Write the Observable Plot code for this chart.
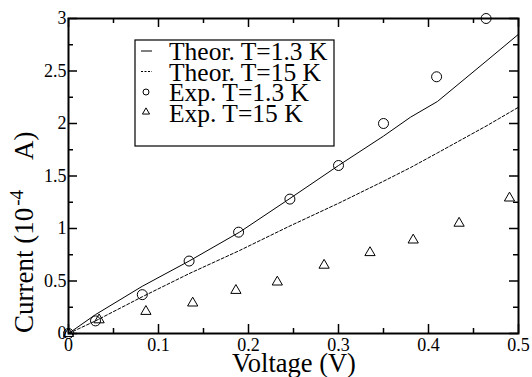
<!DOCTYPE html>
<html>
<head>
<meta charset="utf-8">
<script src="https://cdn.jsdelivr.net/npm/d3@7"></script>
<script src="https://cdn.jsdelivr.net/npm/@observablehq/plot@0.6"></script>
<style>
  html, body { margin: 0; padding: 0; background: #fff; }
  svg { display: block; }
</style>
</head>
<body>
<div id="chart"></div>
<script>
// ---- data ----
const expV13 = [0, 0.030, 0.082, 0.134, 0.189, 0.246, 0.300, 0.350, 0.409, 0.464];
const expI13 = [0, 0.12, 0.37, 0.69, 0.965, 1.28, 1.60, 2.00, 2.445, 3.00];
const expV15 = [0, 0.034, 0.086, 0.138, 0.186, 0.232, 0.284, 0.335, 0.383, 0.434, 0.490];
const expI15 = [0, 0.13, 0.21, 0.29, 0.41, 0.49, 0.65, 0.77, 0.89, 1.05, 1.29];
const thV   = [0, 0.03, 0.082, 0.134, 0.19, 0.245, 0.30, 0.35, 0.38, 0.41, 0.465, 0.5];
const th13  = [0, 0.18, 0.45, 0.69, 0.965, 1.28, 1.60, 1.88, 2.06, 2.21, 2.60, 2.85];
const th15  = [0, 0.12, 0.35, 0.57, 0.79, 1.02, 1.24, 1.45, 1.58, 1.72, 1.98, 2.155];

const xTicks = [0, 0.1, 0.2, 0.3, 0.4, 0.5];
const xTickLabels = ["0", "0.1", "0.2", "0.3", "0.4", "0.5"];
const xMinor = [0.05, 0.15, 0.25, 0.35, 0.45];
const yTicks = [0, 0.5, 1, 1.5, 2, 2.5, 3];
const yTickLabels = ["0", "0.5", "1", "1.5", "2", "2.5", "3"];
const yMinor = [0.25, 0.75, 1.25, 1.75, 2.25, 2.75];

const seriesNames = ["Theor. T=1.3 K", "Theor. T=15 K", "Exp. T=1.3 K", "Exp. T=15 K"];
const xLabel = "Voltage (V)";
const yLabelParts = ["Current (10", "-4", "A)"];

// ---- tables ----
const theory13 = thV.map((v, i) => ({v, c: th13[i]}));
const theory15 = thV.map((v, i) => ({v, c: th15[i]}));
const exp13 = expV13.map((v, i) => ({v, c: expI13[i]}));
const exp15 = expV15.map((v, i) => ({v, c: expI15[i]}));

const font = "'Liberation Serif', 'Times New Roman', serif";
const fmtX = d => xTickLabels[xTicks.indexOf(d)];
const fmtY = d => yTickLabels[yTicks.indexOf(d)];

const W = 532, H = 377, ML = 68, MR = 14, MT = 18, MB = 44;
const FW = W - ML - MR, FH = H - MT - MB;
const major = 9, minor = 5;

const svg = Plot.plot({
  width: W,
  height: H,
  marginLeft: ML,
  marginRight: MR,
  marginTop: MT,
  marginBottom: MB,
  style: {fontFamily: font, background: "#fff", color: "#000", overflow: "visible"},
  x: {domain: [0, 0.5]},
  y: {domain: [0, 3]},
  marks: [
    // tick labels
    Plot.axisX(xTicks, {anchor: "bottom", tickSize: 0, tickPadding: 5, fontSize: 18, tickFormat: fmtX, label: null}),
    Plot.axisY(yTicks, {anchor: "left", tickSize: 0, tickPadding: 2, fontSize: 18, tickFormat: fmtY, label: null}),
    // inward ticks on all four sides
    Plot.tickX(xTicks, {x: d => d, insetTop: FH - major, strokeWidth: 1.5}),
    Plot.tickX(xMinor, {x: d => d, insetTop: FH - minor, strokeWidth: 1.5}),
    Plot.tickX(xTicks, {x: d => d, insetBottom: FH - major, strokeWidth: 1.5}),
    Plot.tickX(xMinor, {x: d => d, insetBottom: FH - minor, strokeWidth: 1.5}),
    Plot.tickY(yTicks, {y: d => d, insetRight: FW - major, strokeWidth: 1.5}),
    Plot.tickY(yMinor, {y: d => d, insetRight: FW - minor, strokeWidth: 1.5}),
    Plot.tickY(yTicks, {y: d => d, insetLeft: FW - major, strokeWidth: 1.5}),
    Plot.tickY(yMinor, {y: d => d, insetLeft: FW - minor, strokeWidth: 1.5}),
    // data
    Plot.line(theory13, {x: "v", y: "c", stroke: "#000", strokeWidth: 1}),
    Plot.line(theory15, {x: "v", y: "c", stroke: "#000", strokeWidth: 1, strokeDasharray: "3,2"}),
    Plot.dot(exp13, {x: "v", y: "c", r: 5, symbol: "circle", stroke: "#000", fill: "none", strokeWidth: 1}),
    Plot.dot(exp15, {x: "v", y: "c", r: 3.8, symbol: "triangle", stroke: "#000", fill: "none", strokeWidth: 1}),
    Plot.frame({stroke: "#000", strokeWidth: 2})
  ]
});

document.getElementById("chart").appendChild(svg);

// ---- axis titles & legend ----
const s = d3.select(svg);
s.append("text")
  .attr("x", 294).attr("y", 371.5)
  .attr("text-anchor", "middle")
  .attr("font-family", font).attr("font-size", 26.5)
  .attr("fill", "#000")
  .text(xLabel);

const yl = s.append("text")
  .attr("transform", "translate(33,333) rotate(-90)")
  .attr("text-anchor", "start")
  .attr("font-family", font).attr("font-size", 27)
  .attr("fill", "#000");
yl.append("tspan").text(yLabelParts[0]);
yl.append("tspan").attr("font-size", 19).attr("dx", 2).attr("dy", -10).text(yLabelParts[1]);
yl.append("tspan").attr("dx", 30).attr("dy", 10).text(yLabelParts[2]);

const lg = s.append("g").attr("text-anchor", "start");
lg.append("rect").attr("x", 135).attr("y", 40).attr("width", 199).attr("height", 106)
  .attr("fill", "#fff").attr("stroke", "#000").attr("stroke-width", 1.2);
const rowsY = [60, 80.5, 101, 121.5];
seriesNames.forEach((name, i) => {
  lg.append("text").attr("x", 169).attr("y", rowsY[i]).attr("text-anchor", "start")
    .attr("font-family", font).attr("font-size", 25.5).attr("fill", "#000").text(name);
});
lg.append("line").attr("x1", 141).attr("x2", 152).attr("y1", 51).attr("y2", 51).attr("stroke", "#000");
lg.append("line").attr("x1", 141).attr("x2", 152).attr("y1", 71.5).attr("y2", 71.5).attr("stroke", "#000").attr("stroke-dasharray", "2,1.5");
lg.append("circle").attr("cx", 146).attr("cy", 92).attr("r", 3).attr("fill", "none").attr("stroke", "#000");
lg.append("path").attr("d", d3.symbol(d3.symbolTriangle, 22)()).attr("transform", "translate(146,112)").attr("fill", "none").attr("stroke", "#000");
</script>
</body>
</html>
